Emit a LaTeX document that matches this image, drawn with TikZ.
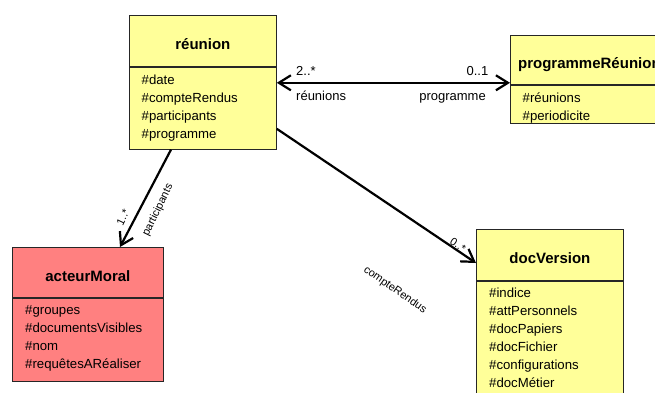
\documentclass[tikz,border=0pt]{standalone}
\usepackage{fontspec}
\setmainfont{Liberation Sans}
\usepackage{tikz}
\usetikzlibrary{arrows.meta,calc}
\definecolor{classYellow}{RGB}{255,255,153}
\definecolor{classRed}{RGB}{255,128,128}

\begin{document}
\begin{tikzpicture}[x=1pt,y=-1pt,
    >={Straight Barb[length=12pt,width=15pt]},
    head/.style={draw=black!85,line width=0.8pt,anchor=north west,inner sep=0pt,
        text height=18pt,text depth=0pt,font=\fontsize{15}{17}\selectfont\bfseries},
    body/.style={draw=black!85,line width=0.8pt,anchor=north west,inner sep=0pt},
    attrs/.style={anchor=north west,inner sep=0pt,align=left,font=\fontsize{13.2}{18}\selectfont},
    link/.style={line width=2.2pt},
    role/.style={inner sep=0pt,font=\fontsize{13}{15}\selectfont},
    slant/.style={inner sep=0pt,font=\fontsize{11}{13}\selectfont}]
    \path[use as bounding box,clip] (0,0) rectangle (655,392);

    % classes
    \node[head,fill=classYellow,minimum width=147pt,minimum height=51pt] (reunion) at (129,15) {réunion};
    \node[body,fill=classYellow,minimum width=147pt,minimum height=82pt] (reunionBody) at (reunion.south west) {};
    \node[attrs] (reunionAttrs) at ($(reunionBody.north west)+(12.5,7.5)$)
        {\#date\\\#compteRendus\\\#participants\\\#programme};

    \node[head,fill=classYellow,minimum width=158pt,minimum height=49pt] (prog) at (510,35) {programmeRéunion};
    \node[body,fill=classYellow,minimum width=158pt,minimum height=38pt] (progBody) at (prog.south west) {};
    \node[attrs] (progAttrs) at ($(progBody.north west)+(12.5,7.5)$)
        {\#réunions\\\#periodicite};

    \node[head,fill=classRed,minimum width=151pt,minimum height=50pt] (acteur) at (12,247) {acteurMoral};
    \node[body,fill=classRed,minimum width=151pt,minimum height=83pt] (acteurBody) at (acteur.south west) {};
    \node[attrs] (acteurAttrs) at ($(acteurBody.north west)+(13,7.5)$)
        {\#groupes\\\#documentsVisibles\\\#nom\\\#requêtesARéaliser};

    \node[head,fill=classYellow,minimum width=147pt,minimum height=51pt] (docVersion) at (476,229) {docVersion};
    \node[body,fill=classYellow,minimum width=147pt,minimum height=118pt] (docBody) at (docVersion.south west) {};
    \node[attrs] (docAttrs) at ($(docBody.north west)+(13,7)$)
        {\#indice\\\#attPersonnels\\\#docPapiers\\\#docFichier\\\#configurations\\\#docMétier};

    % associations
    \draw[link,<->] ($(reunionBody.north east)+(0,16)$) -- ($(progBody.north west)+(0,-2)$);
    \draw[link,->] ($(reunionBody.south west)+(42,0)$) -- ($(acteur.north west)+(108,0)$);
    \draw[link,->] ($(reunionBody.north east)+(0,62)$) -- ($(docVersion.north west)+(0,34)$);

    \node[role,anchor=base west] (reunionsMult) at (296,75) {2..*};
    \node[role,anchor=base west] (reunionsRole) at (296,100.5) {réunions};
    \node[role,anchor=base east] (progMult) at (488.5,75) {0..1};
    \node[role,anchor=base east] (progRole) at (486,100.5) {programme};
    \node[slant,rotate=64] (partMult) at (123,217) {1..*};
    \node[slant,rotate=64] (partRole) at (158,210) {participants};
    \node[slant,rotate=-34] (crMult) at (458,245) {0..*};
    \node[slant,rotate=-35] (crRole) at (395,290) {compteRendus};
\end{tikzpicture}
\end{document}
